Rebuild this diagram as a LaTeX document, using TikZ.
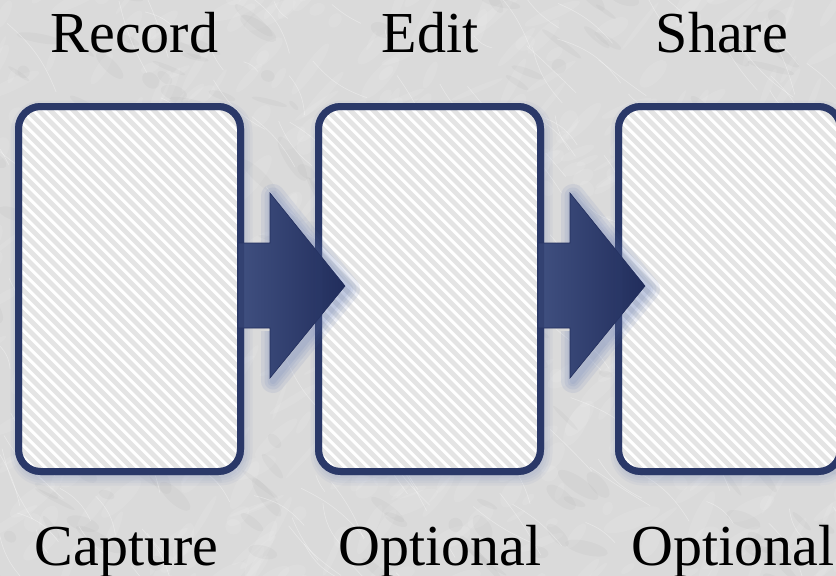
\documentclass[tikz,border=0pt]{standalone}
\usepackage{fontspec}
\setmainfont{Liberation Serif}
\usetikzlibrary{calc}
\definecolor{navy}{RGB}{42,56,104}
\definecolor{navylight}{RGB}{64,80,128}
\definecolor{navydark}{RGB}{33,45,92}
\definecolor{bgcol}{RGB}{218,218,218}
\definecolor{stripecol}{RGB}{228,228,228}
\definecolor{boxwhite}{RGB}{255,255,255}
\definecolor{glowcol}{RGB}{110,130,185}
\newcommand{\hatchcard}[1]{%
  \begin{scope}
    \clip[rounded corners=22] (#1.north west) rectangle (#1.south east);
    \foreach \k in {-34,...,21}{
      \draw[stripecol, line width=4.8]
        ($(#1.north west)+(\k*11.5,-5)$) -- ++(420,420);
    }
  \end{scope}
}
\newcommand{\blockarrow}[2]{%
  \path ($(#1.east)+(-2.5,-46)$) coordinate (#1-s1)
        ($(#1.east)+(29.5,-46)$) coordinate (#1-s2)
        ($(#1.east)+(29.5,-96)$) coordinate (#1-h1)
        ($(#2.west)+(26.5,-3)$) coordinate (#1-tip)
        ($(#1.east)+(29.5,89)$) coordinate (#1-h2)
        ($(#1.east)+(29.5,39)$) coordinate (#1-s3)
        ($(#1.east)+(-2.5,39)$) coordinate (#1-s4);
  \foreach \w in {24,17,11,6}{
    \draw[glow, opacity=0.13, line width=\w] ($(#1-s2)+(3,3)$) -- ($(#1-h1)+(3,3)$) -- ($(#1-tip)+(3,3)$) -- ($(#1-h2)+(3,3)$) -- ($(#1-s3)+(3,3)$);
  }
  \shade[arrowbody] (#1-s1) -- (#1-s2) -- (#1-h1) -- (#1-tip) -- (#1-h2) -- (#1-s3) -- (#1-s4) -- cycle;
}
\begin{document}
\begin{tikzpicture}[x=1pt,y=-1pt,
  lbl/.style={font=\fontsize{58}{60}\selectfont, anchor=base, inner sep=0pt, text=black},
  card/.style={rectangle, rounded corners=22, minimum width=222, minimum height=365,
    inner sep=0pt, outer sep=0pt, fill=boxwhite},
  cardborder/.style={draw=navy, line width=7, rounded corners=22},
  glow/.style={glowcol, opacity=0.07, line join=round},
  arrowbody/.style={left color=navylight, right color=navydark, draw=navydark, line width=0.6}
]
\useasboundingbox (0,0) rectangle (836,576);
\clip (0,0) rectangle (836,576);
% marble background
\fill[bgcol] (0,0) rectangle (836,576);
\pgfmathsetseed{5}
\foreach \i in {1,...,600}{
  \pgfmathsetmacro{\xa}{rnd*880-20}
  \pgfmathsetmacro{\ya}{rnd*620-20}
  \pgfmathsetmacro{\rx}{6+rnd*26}
  \pgfmathsetmacro{\ry}{2+rnd*7}
  \pgfmathsetmacro{\rot}{20+rnd*50}
  \fill[white, opacity=0.09, rotate around={\rot:(\xa,\ya)}] (\xa,\ya) ellipse[x radius=\rx, y radius=\ry];
}
\foreach \i in {1,...,200}{
  \pgfmathsetmacro{\xa}{rnd*880-20}
  \pgfmathsetmacro{\ya}{rnd*620-20}
  \pgfmathsetmacro{\rx}{6+rnd*20}
  \pgfmathsetmacro{\ry}{2+rnd*6}
  \pgfmathsetmacro{\rot}{-60+rnd*50}
  \fill[black, opacity=0.025, rotate around={\rot:(\xa,\ya)}] (\xa,\ya) ellipse[x radius=\rx, y radius=\ry];
}
\foreach \i in {1,...,200}{
  \pgfmathsetmacro{\xa}{rnd*900-30}
  \pgfmathsetmacro{\ya}{rnd*620-20}
  \pgfmathsetmacro{\ang}{30+rnd*40}
  \pgfmathsetmacro{\len}{15+rnd*70}
  \pgfmathsetmacro{\bend}{-20+rnd*40}
  \draw[white, opacity=0.35, line width=0.6] (\xa,\ya) to[bend left=\bend] ++(\ang:\len);
}
% card shadows
\foreach \cx in {129.5,429.5,729.5}{
  \foreach \w in {20,15,10,5}{
    \draw[glow, line width=\w, rounded corners=22]
      (\cx-111+2,106.5+4) rectangle (\cx+111+2,471.5+4);
  }
}
% cards
\node[card] (b1) at (129.5,289) {};
\node[card] (b2) at (429.5,289) {};
\node[card] (b3) at (729.5,289) {};
\hatchcard{b1}
\hatchcard{b2}
\hatchcard{b3}
\draw[cardborder] (b1.north west) rectangle (b1.south east);
\draw[cardborder] (b2.north west) rectangle (b2.south east);
\draw[cardborder] (b3.north west) rectangle (b3.south east);
% block arrows
\blockarrow{b1}{b2}
\blockarrow{b2}{b3}
% borders over arrows
\draw[cardborder, draw opacity=0.55] (b1.north west) rectangle (b1.south east);
\draw[cardborder, draw opacity=0.55] (b2.north west) rectangle (b2.south east);
\draw[cardborder, draw opacity=0.55] (b3.north west) rectangle (b3.south east);
% labels
\node[lbl] (t1) at (134.5,52) {Record};
\node[lbl] (t2) at (430,52) {Edit};
\node[lbl] (t3) at (722,52) {Share};
\node[lbl] (c1) at (126.5,565) {Capture};
\node[lbl] (c2) at (440,565) {Optional};
\node[lbl] (c3) at (733,565) {Optional};
\end{tikzpicture}
\end{document}
